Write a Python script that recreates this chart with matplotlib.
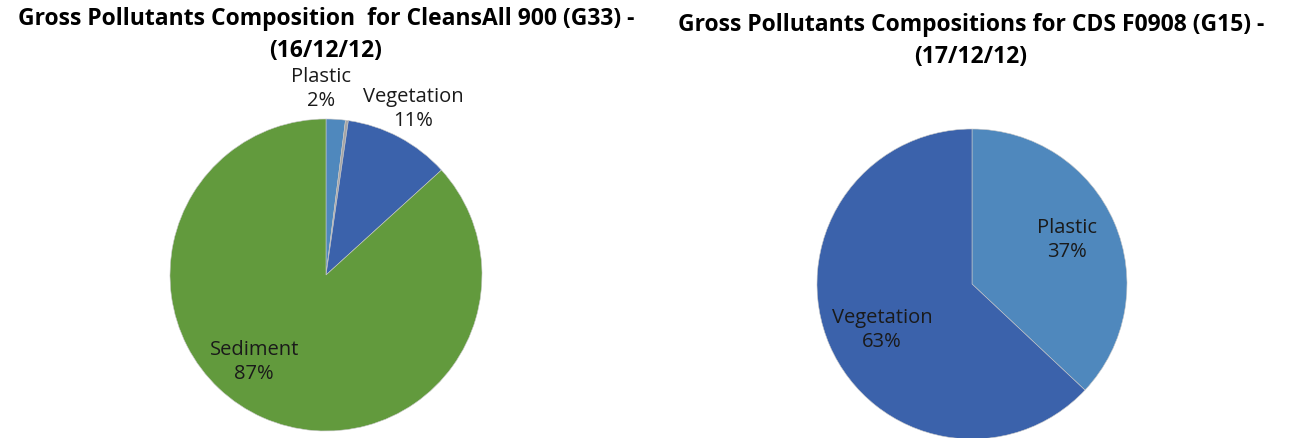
import matplotlib.pyplot as plt

# left chart: CleansAll 900 (G33)
g33_labels = ["Plastic", "Other", "Vegetation", "Sediment"]
g33_values = [2, 0.3, 11, 87]
g33_text = ["Plastic\n2%", "", "Vegetation\n11%", "Sediment\n87%"]
g33_colors = ["#4F88BD", "#A5A5A5", "#3B62AB", "#629A3D"]

# right chart: CDS F0908 (G15)
g15_labels = ["Plastic", "Vegetation"]
g15_values = [37, 63]
g15_text = ["Plastic\n37%", "Vegetation\n63%"]
g15_colors = ["#4F88BD", "#3B62AB"]

plt.rcParams['font.family'] = ['Open Sans', 'DejaVu Sans']

fig = plt.figure(figsize=(12.9, 4.39), dpi=100)

ax1 = fig.add_axes([170/1290, 7/439, 312/1290, 312/439])
ax2 = fig.add_axes([817/1290, -1/439, 310/1290, 310/439])


def draw_pie(ax, values, colors, texts, text_pos):
    ax.pie(values, colors=colors, startangle=90, counterclock=False,
           wedgeprops=dict(linewidth=0.4, edgecolor="#c8c8c8"))
    for t, (x, y) in zip(texts, text_pos):
        if t:
            ax.text(x, y, t, ha="center", va="center", fontsize=14.5,
                    color="#1a1a1a", linespacing=1.25)
    ax.set_xlim(-1, 1)
    ax.set_ylim(-1, 1)
    ax.set_aspect("equal")
    ax.axis("off")


draw_pie(ax1, g33_values, g33_colors, g33_text,
         [(-0.03, 1.2), (0, 0), (0.56, 1.07), (-0.46, -0.55)])
draw_pie(ax2, g15_values, g15_colors, g15_text,
         [(0.61, 0.29), (-0.58, -0.29)])

fig.text(326/1290, 1 - 35/439, "Gross Pollutants Composition  for CleansAll 900 (G33) -\n(16/12/12)",
         ha="center", va="center", fontsize=16.5, fontweight="bold", linespacing=1.4)
fig.text(971/1290, 1 - 41/439, "Gross Pollutants Compositions for CDS F0908 (G15) -\n(17/12/12)",
         ha="center", va="center", fontsize=16.5, fontweight="bold", linespacing=1.4)

fig.savefig("out.png", dpi=100)
